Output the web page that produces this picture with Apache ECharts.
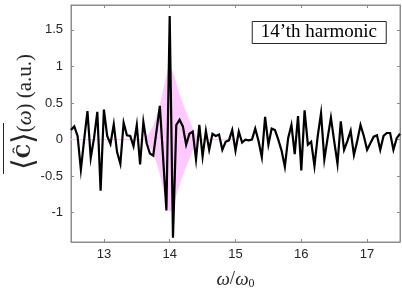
<!DOCTYPE html>
<html><head><meta charset="utf-8">
<script src="https://cdn.jsdelivr.net/npm/echarts@6/dist/echarts.min.js"></script>
<style>html,body{margin:0;padding:0;background:#fff}#c{width:402px;height:295px}</style>
</head><body><div id="c"></div>
<script>
const omega = [
12.5,12.55,12.6,12.65,12.7,12.75,12.8,12.85,12.9,12.95,
13,13.05,13.1,13.15,13.2,13.25,13.3,13.35,13.4,13.45,
13.5,13.55,13.6,13.65,13.7,13.75,13.8,13.85,13.9,13.95,
14,14.05,14.1,14.15,14.2,14.25,14.3,14.35,14.4,14.45,
14.5,14.55,14.6,14.65,14.7,14.75,14.8,14.85,14.9,14.95,
15,15.05,15.1,15.15,15.2,15.25,15.3,15.35,15.4,15.45,
15.5,15.55,15.6,15.65,15.7,15.75,15.8,15.85,15.9,15.95,
16,16.05,16.1,16.15,16.2,16.25,16.3,16.35,16.4,16.45,
16.5,16.55,16.6,16.65,16.7,16.75,16.8,16.85,16.9,16.95,
17,17.05,17.1,17.15,17.2,17.25,17.3,17.35,17.4,17.45,
17.5];
const signal = [
0.13,0.18,0.05,-0.41,0.00,0.39,-0.25,0.02,0.38,-0.70,
0.41,0.05,-0.06,0.21,-0.17,-0.33,0.23,0.06,0.05,-0.09,
0.20,-0.34,0.24,-0.05,-0.19,-0.22,0.12,0.46,-0.25,-0.97,
1.69,-1.34,0.20,0.27,0.18,-0.07,0.08,0.11,-0.27,0.20,
-0.23,0.12,-0.14,0.08,0.05,0.07,-0.14,-0.03,-0.01,0.13,
-0.15,0.11,-0.04,0.00,-0.01,0.00,0.15,-0.02,-0.24,0.31,
-0.07,0.15,0.13,0.00,-0.15,-0.37,0.02,0.20,-0.20,0.32,
-0.42,0.40,-0.07,-0.03,-0.36,0.05,0.36,-0.27,0.02,0.30,
-0.02,-0.33,0.25,-0.14,-0.02,0.12,-0.21,-0.02,0.20,0.05,
-0.14,-0.05,0.04,0.06,-0.14,0.05,0.09,0.09,-0.14,0.02,
0.08];
const envOmega = [12.5,13.6,13.65,13.7,13.75,13.8,13.85,13.9,13.95,14,14.05,14.1,14.15,14.2,14.25,14.3,14.35,14.4,14.45,15.0];
const envUpper = [0,0,0.04,0.10,0.18,0.30,0.45,0.64,0.85,0.98,0.90,0.75,0.60,0.48,0.36,0.25,0.14,0.05,0,0];
const xTicks = [13,14,15,16,17];
const yTicks = [-1,-0.5,0,0.5,1,1.5];
const legendText = '14’th harmonic';

const sigData = omega.map((x,i)=>[x,signal[i]]);
const envUp = envOmega.map((x,i)=>[x,envUpper[i]]);
const envDn = envOmega.map((x,i)=>[x,-envUpper[i]]);

const axisGray = '#8c8c8c';
const labelCol = '#262626';
const chart = echarts.init(document.getElementById('c'), null, {renderer:'canvas'});
const baseX = {type:'value', min:12.5, max:17.5,
  axisLine:{show:true, onZero:false, lineStyle:{color:axisGray}},
  splitLine:{show:false},
  axisTick:{show:true, inside:true, length:3, customValues:xTicks, lineStyle:{color:axisGray}},
  axisLabel:{customValues:xTicks, color:labelCol, fontFamily:'Liberation Sans', fontSize:13, margin:6}};
const baseY = {type:'value', min:-1.4, max:1.84,
  axisLine:{show:true, onZero:false, lineStyle:{color:axisGray}},
  splitLine:{show:false},
  axisTick:{show:true, inside:true, length:3, customValues:yTicks, lineStyle:{color:axisGray}},
  axisLabel:{customValues:yTicks, color:labelCol, fontFamily:'Liberation Sans', fontSize:13, margin:8}};
chart.setOption({
  animation:false,
  grid:{left:71, right:2, top:5, bottom:50, show:true, borderColor:axisGray, borderWidth:1, backgroundColor:'transparent'},
  title:{text:legendText, right:16, top:21, padding:[2,9,2,9], borderWidth:1, borderColor:'#262626', backgroundColor:'#fff',
    textStyle:{fontFamily:'Liberation Serif', fontSize:19, lineHeight:19, fontWeight:'normal', color:'#000'}},
  xAxis:[Object.assign({}, baseX, {position:'bottom',
      name:'{i|ω}{n|/}{i|ω}{s|0}', nameLocation:'middle', nameGap:27,
      nameTextStyle:{rich:{i:{fontFamily:'Liberation Serif', fontStyle:'italic', fontSize:19, color:labelCol},
                           n:{fontFamily:'Liberation Serif', fontSize:19, color:labelCol},
                           s:{fontFamily:'Liberation Serif', fontSize:12, color:labelCol, padding:[9,0,0,0]}}}}),
    Object.assign({}, baseX, {position:'top', axisLabel:{show:false, customValues:xTicks}})],
  yAxis:[Object.assign({}, baseY, {position:'left'}),
    Object.assign({}, baseY, {position:'right', axisLabel:{show:false, customValues:yTicks}})],
  graphic:[
    {type:'text', x:25, y:112, rotation:Math.PI/2,
     style:{text:'{b|⟨}{c|Ĉ}{b|⟩}{n|(}{i|ω}{n|) (a.u.)}', align:'center', verticalAlign:'middle',
       rich:{b:{fontFamily:'DejaVu Serif', fontSize:30, fill:labelCol},
             c:{fontFamily:'DejaVu Serif', fontWeight:'bold', fontSize:18, fill:labelCol},
             n:{fontFamily:'Liberation Serif', fontSize:21, fill:labelCol},
             i:{fontFamily:'Liberation Serif', fontStyle:'italic', fontSize:21, fill:labelCol}}}},
    {type:'line', shape:{x1:3.5, y1:123, x2:3.5, y2:174}, style:{stroke:labelCol, lineWidth:1}}
  ],
  series:[
    {type:'line', data:envUp, smooth:0.4, symbol:'none', z:1,
     lineStyle:{color:'#ffc8ff', width:1}, areaStyle:{color:'#ffc8ff', opacity:1}},
    {type:'line', data:envDn, smooth:0.4, symbol:'none', z:1,
     lineStyle:{color:'#ffc8ff', width:1}, areaStyle:{color:'#ffc8ff', opacity:1}},
    {type:'line', data:sigData, symbol:'none', z:3,
     lineStyle:{color:'#000', width:2.2, join:'miter'}}
  ]
});
</script></body></html>
